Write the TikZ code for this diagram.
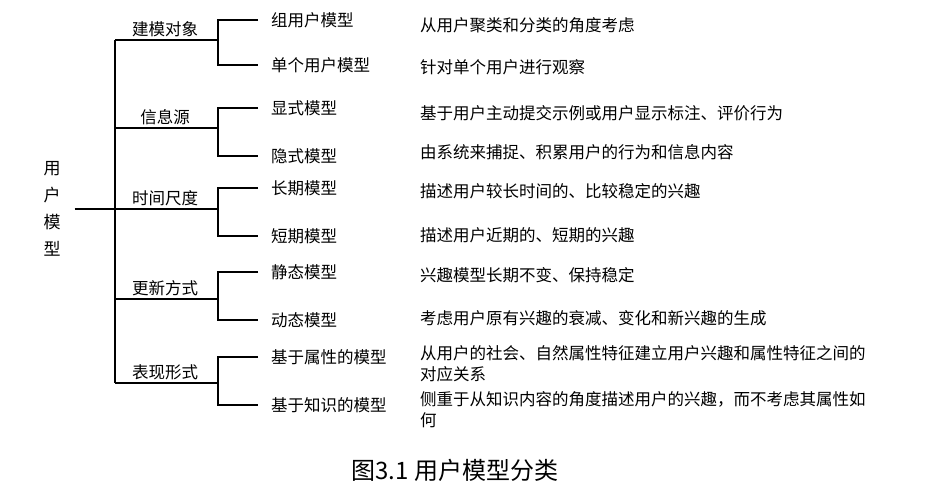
\documentclass[tikz,border=0pt]{standalone}
\usepackage{fontspec}
\setmainfont{Noto Sans CJK SC}
\usetikzlibrary{positioning}
\tikzset{
  branch/.style   = {draw=black, line width=2pt},
  rootlab/.style  = {font=\fontsize{17}{27}\selectfont, align=center, inner xsep=14pt, inner ysep=0pt},
  catlab/.style   = {font=\fontsize{16.5}{19}\selectfont, anchor=south, inner sep=0pt},
  leaflab/.style  = {font=\fontsize{16.5}{19}\selectfont, anchor=west, inner xsep=13pt, inner ysep=1pt},
  desclab/.style  = {font=\fontsize{16.5}{21}\selectfont, anchor=north west, align=left, inner sep=0pt},
  figcap/.style   = {font=\fontsize{24}{27}\selectfont, inner sep=0pt},
}
\begin{document}
\begin{tikzpicture}[x=1pt,y=-1pt]
\path[use as bounding box] (0,0) rectangle (944,501);

\node[rootlab] (root) at (52,209) {用\\户\\模\\型};

% ---- leaves and their descriptions --------------------------------------
\foreach \n/\y/\dy/\leaf/\desc in {
  1/20/25/组用户模型/从用户聚类和分类的角度考虑,
  2/65/67/单个用户模型/针对单个用户进行观察,
  3/108/113/显式模型/基于用户主动提交示例或用户显示标注、评价行为,
  4/156/152/隐式模型/由系统来捕捉、积累用户的行为和信息内容,
  5/188/191/长期模型/描述用户较长时间的、比较稳定的兴趣,
  6/236/235/短期模型/描述用户近期的、短期的兴趣,
  7/272/275/静态模型/兴趣模型长期不变、保持稳定,
  8/320/318/动态模型/考虑用户原有兴趣的衰减、变化和新兴趣的生成,
  9/357/353/基于属性的模型/{从用户的社会、自然属性特征建立用户兴趣和属性特征之间的\\对应关系},
  10/405/399/基于知识的模型/{侧重于从知识内容的角度描述用户的兴趣，而不考虑其属性如\\何}} {
  \node[leaflab] (leaf\n) at (258,\y) {\leaf};
  \node[desclab] (desc\n) at (420,\dy-8) {\desc};
}

% ---- categories: label over the branch, bracket to two leaves -----------
\foreach \i/\y/\cat in {1/40/建模对象, 2/128/信息源, 3/209/时间尺度, 4/299/更新方式, 5/383/表现形式} {
  \coordinate (t\i) at (115,\y);
  \coordinate (k\i) at (218,\y);
  \node[catlab] (cat\i) at (165,\y-3) {\cat};
  \pgfmathtruncatemacro\a{2*\i-1}
  \pgfmathtruncatemacro\b{2*\i}
  \draw[branch] (leaf\a.west) -| (k\i) |- (leaf\b.west);
  \draw[branch] (t\i) -- (k\i);
}

% trunk
\draw[branch] (t1) -- (t5);
\draw[branch] (root.east) -- (t3);

\node[figcap] (fig) at (455,470) {图3.1 用户模型分类};

\end{tikzpicture}
\end{document}
